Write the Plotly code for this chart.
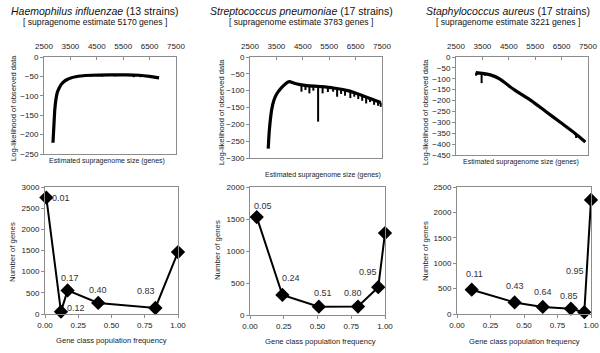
import plotly.graph_objects as go

W, H = 600, 353
FONT = "Liberation Sans"

# ---------------- data ----------------
titles = ["<i>Haemophilus influenzae</i> (13 strains)",
          "<i>Streptococcus pneumoniae</i> (17 strains)",
          "<i>Staphylococcus aureus</i> (17 strains)"]
subtitles = ["[ supragenome estimate 5170 genes ]",
             "[ supragenome estimate 3783 genes ]",
             "[ supragenome estimate 3221 genes ]"]

# top row: log-likelihood curves
hi_size = [2840, 2880, 2910, 2950, 3000, 3075, 3160, 3260, 3380, 3515, 3700, 3890, 4300, 5000, 5600, 6100, 6500, 6860]
hi_ll = [-221, -170, -135, -110, -92, -80, -70, -63, -58, -54, -51, -49, -47, -46, -46, -47, -50, -54]
hi_spike_x = [4300, 4700, 5200, 5900, 6150]
hi_spike_top = [-47, -46, -46, -46, -47]
hi_spike_bot = [-51, -50, -50, -52, -52]

sp_size = [3190, 3230, 3320, 3400, 3510, 3650, 3760, 3900, 4000, 4150, 4400, 4650, 5200, 5660, 6200, 6670, 7100, 7450]
sp_ll = [-272, -220, -157, -130, -110, -95, -86, -76, -73, -77, -82, -85, -88, -92, -100, -112, -125, -135]
sp_spike_x = [4450, 4600, 4750, 4900, 5080, 5250, 5450, 5650, 5800, 5950, 6100, 6300, 6450, 6600, 6750, 6900, 7050, 7200, 7350, 7450]
sp_spike_top = [-83, -85, -86, -87, -88, -89, -90, -92, -95, -97, -100, -104, -108, -111, -115, -119, -124, -129, -133, -135]
sp_spike_bot = [-103, -98, -108, -100, -192, -108, -104, -103, -118, -110, -115, -122, -118, -125, -130, -138, -134, -142, -145, -148]

sa_size = [3250, 3500, 3800, 4150, 4700, 5350, 5900, 6450, 7000, 7400]
sa_ll = [-72, -75, -82, -100, -150, -200, -250, -300, -350, -390]
sa_spike_x = [3260, 3320, 3470, 3600, 7050]
sa_spike_top = [-72, -73, -75, -78, -355]
sa_spike_bot = [-86, -82, -120, -86, -372]

# bottom row: gene class frequency distributions
hi_freq = [0.01, 0.12, 0.17, 0.40, 0.83, 1.00]
hi_genes = [2750, 55, 557, 262, 142, 1462]
hi_lab = ["0.01", "0.12", "0.17", "0.40", "0.83", ""]

sp_freq = [0.05, 0.24, 0.51, 0.80, 0.95, 1.00]
sp_genes = [1530, 313, 130, 132, 434, 1280]
sp_lab = ["0.05", "0.24", "0.51", "0.80", "0.95", ""]

sa_freq = [0.11, 0.43, 0.64, 0.85, 0.95, 1.00]
sa_genes = [478, 228, 140, 105, 35, 2245]
sa_lab = ["0.11", "0.43", "0.64", "0.85", "0.95", ""]

top_ranges = [[-250, 0], [-300, 0], [-450, 0]]
bot_ranges = [[0, 3000], [0, 2000], [0, 2500]]

# ---------------- layout (pixel boxes) ----------------
top_boxes = [(44, 176, 57, 154), (250, 382, 57, 158), (456, 588, 57, 155)]
bot_boxes = [(45, 178, 187, 314), (250, 385, 187, 315), (457, 591, 187, 314)]
label_offsets = [
    [(15, 0), (15, 4), (2, 12), (0, 13), (-9, 17)],
    [(6, 11), (9, 17), (4, 14), (-5, 14), (-10, 15)],
    [(3, 16), (0, 16), (0, 15), (-2, 13), (-9, 41)],
]
title_x = [95, 301, 508]
ytitle_top = [(13, 108), (221, 112), (425, 112)]
xtitle_top = [(107, 161), (323, 175), (521, 162)]
ytitle_bot = [(13, 252), (218, 250), (425, 251)]
xtitle_bot = [(111, 340), (320, 341), (524, 341)]


def fx(px):
    return px / W


def fy(py):
    return 1 - py / H


fig = go.Figure()
layout = dict(width=W, height=H, margin=dict(l=0, r=0, t=0, b=0, pad=0, autoexpand=False),
              paper_bgcolor="white", plot_bgcolor="white", showlegend=False,
              font=dict(family=FONT, size=9, color="#222"))
annotations = []

axis_common = dict(showline=True, mirror=True, linecolor="#8c8c8c", linewidth=1, automargin=False,
                   showgrid=False, zeroline=False, ticklen=3, tickcolor="#8c8c8c",
                   tickfont=dict(family=FONT, size=8, color="#222"))

top_data = [(hi_size, hi_ll, hi_spike_x, hi_spike_top, hi_spike_bot),
            (sp_size, sp_ll, sp_spike_x, sp_spike_top, sp_spike_bot),
            (sa_size, sa_ll, sa_spike_x, sa_spike_top, sa_spike_bot)]
bot_data = [(hi_freq, hi_genes, hi_lab), (sp_freq, sp_genes, sp_lab), (sa_freq, sa_genes, sa_lab)]


def paper_text(px, py, text, size, angle=0, color="#222"):
    return dict(x=fx(px), y=fy(py), xref="paper", yref="paper", text=text, showarrow=False,
                xanchor="center", yanchor="middle", textangle=angle,
                font=dict(family=FONT, size=size, color=color))


for i in range(3):
    n = i + 1
    xa, ya = f"x{n}", f"y{n}"
    x0, x1, y0, y1 = top_boxes[i]
    layout[f"xaxis{n}"] = dict(axis_common, domain=[fx(x0), fx(x1)], range=[2500, 7500],
                               side="top", ticks="inside", tickvals=[2500, 3500, 4500, 5500, 6500, 7500],
                               ticklabelstandoff=4, anchor=ya)
    layout[f"yaxis{n}"] = dict(axis_common, domain=[fy(y1), fy(y0)], range=top_ranges[i],
                               dtick=50, ticks="outside", anchor=xa)
    sx, sy, kx, kt, kb = top_data[i]
    fig.add_trace(go.Scatter(x=sx, y=sy, mode="lines", line=dict(color="black", width=3.2, shape="spline", smoothing=0.6),
                             xaxis=xa, yaxis=ya, hoverinfo="skip"))
    spx, spy = [], []
    for a, t, b in zip(kx, kt, kb):
        spx += [a, a, None]
        spy += [t, b, None]
    fig.add_trace(go.Scatter(x=spx, y=spy, mode="lines", line=dict(color="black", width=2),
                             xaxis=xa, yaxis=ya, hoverinfo="skip"))

    # bottom row
    m = i + 4
    xb, yb = f"x{m}", f"y{m}"
    x0, x1, y0, y1 = bot_boxes[i]
    layout[f"xaxis{m}"] = dict(axis_common, domain=[fx(x0), fx(x1)], range=[0, 1],
                               tickvals=[0, 0.25, 0.5, 0.75, 1.0], tickformat=".2f",
                               ticks="outside", anchor=yb)
    layout[f"yaxis{m}"] = dict(axis_common, domain=[fy(y1), fy(y0)], range=bot_ranges[i],
                               dtick=500, ticks="outside", anchor=xb)
    fq, gn, lb = bot_data[i]
    fig.add_trace(go.Scatter(x=fq, y=gn, mode="lines+markers", cliponaxis=False,
                             line=dict(color="black", width=2),
                             marker=dict(symbol="diamond", size=11, color="black"),
                             xaxis=xb, yaxis=yb, hoverinfo="skip"))
    for j, (xv, yv, t) in enumerate(zip(fq, gn, lb)):
        if not t:
            continue
        dx, dy = label_offsets[i][j]
        annotations.append(dict(x=xv, y=yv, xref=xb, yref=yb, text=t, showarrow=False,
                                xanchor="center", yanchor="middle",
                                xshift=dx, yshift=dy, font=dict(family=FONT, size=9, color="#333")))

    # titles
    annotations.append(paper_text(title_x[i], 11, titles[i], 10.5, color="#111"))
    annotations.append(paper_text(title_x[i], 22, subtitles[i], 8.6, color="#111"))
    annotations.append(paper_text(ytitle_top[i][0], ytitle_top[i][1], "Log-likelihood of observed data", 7.6, angle=-90))
    annotations.append(paper_text(xtitle_top[i][0], xtitle_top[i][1], "Estimated supragenome size (genes)", 7))
    annotations.append(paper_text(ytitle_bot[i][0], ytitle_bot[i][1], "Number of genes", 7.8, angle=-90))
    annotations.append(paper_text(xtitle_bot[i][0], xtitle_bot[i][1], "Gene class population frequency", 7.6))

layout["annotations"] = annotations
fig.update_layout(**layout)
fig.write_html("out.html", config={"displayModeBar": False, "staticPlot": True},
               post_script="document.body.style.margin='0';document.body.style.overflow='hidden';")
